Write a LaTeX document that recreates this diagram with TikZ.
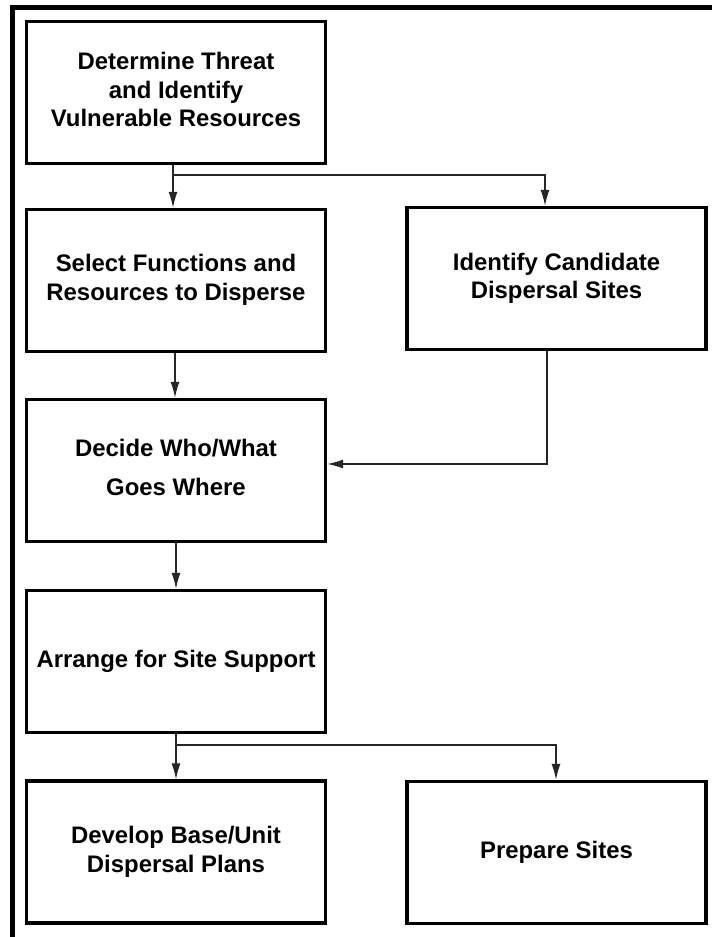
\documentclass[tikz,border=0pt]{standalone}
\usepackage{fontspec}
\setmainfont{Liberation Sans}
\usetikzlibrary{arrows.meta}
\begin{document}
\begin{tikzpicture}[x=1bp,y=-1bp,
  box/.style={draw=black,line width=3.2bp,minimum width=299bp,minimum height=142bp,inner sep=0pt,align=center,
    font=\fontsize{24}{28.5}\selectfont\bfseries},
  conn/.style={draw=black!85,line width=1.6bp},
  arr/.style={conn,-{Latex[length=16bp,width=9bp]}}]
\useasboundingbox (0,0) rectangle (712,937);
\fill[white] (0,0) rectangle (712,937);
% outer frame
\fill[black] (10,5) rectangle (712,10);
\fill[black] (10,5) rectangle (15,937);
% boxes
\node[box] (b1) at (176,92.5) {\raisebox{5bp}{\begin{tabular}{@{}c@{}}Determine Threat\\and Identify\\Vulnerable Resources\end{tabular}}};
\node[box] (b2) at (176,280.5) {\raisebox{-3bp}{\begin{tabular}{@{}c@{}}Select Functions and\\Resources to Disperse\end{tabular}}};
\node[box] (b3) at (556.5,278.5) {Identify Candidate\\Dispersal Sites};
\node[box] (b4) at (176,470.5) {\raisebox{13bp}{\begin{tabular}{@{}c@{}}Decide Who/What\\[10bp]Goes Where\end{tabular}}};
\node[box] (b5) at (176,661.5) {Arrange for Site Support};
\node[box] (b6) at (176,852) {Develop Base/Unit\\Dispersal Plans};
\node[box] (b7) at (556.5,852.5) {Prepare Sites};
% connectors
\coordinate (j1) at (173,175);
\coordinate (r1) at (545,175);
\draw[arr] (j1 |- b1.south) -- (b2.north -| j1);
\draw[arr] (j1) -| (b3.north -| r1);
\coordinate (j2) at (175,0);
\draw[arr] (b2.south -| j2) -- (b4.north -| j2);
\coordinate (r3) at (547,464);
\draw[arr] (b3.south -| r3) -- (r3) -- (b4.east |- r3);
\coordinate (j4) at (176,0);
\draw[arr] (b4.south -| j4) -- (b5.north -| j4);
\coordinate (j5) at (176,745);
\coordinate (r5) at (556,745);
\draw[arr] (j5 |- b5.south) -- (b6.north -| j5);
\draw[arr] (j5) -| (b7.north -| r5);
\end{tikzpicture}
\end{document}
